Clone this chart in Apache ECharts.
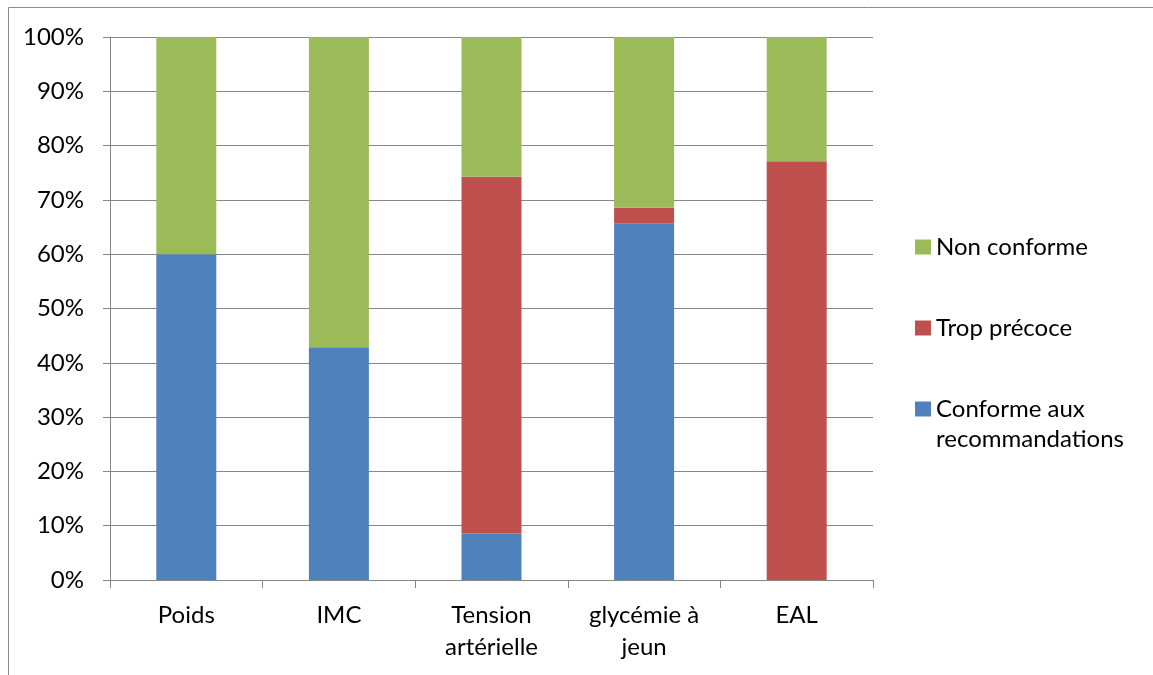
<!DOCTYPE html>
<html>
<head>
<meta charset="utf-8">
<script src="https://cdn.jsdelivr.net/npm/echarts@6/dist/echarts.min.js"></script>
<style>
  html, body { margin: 0; padding: 0; background: #fff; }
  #chart { width: 1153px; height: 675px; }
</style>
</head>
<body>
<div id="chart"></div>
<script>
// Categories of follow-up measures
const categories = ['Poids', 'IMC', 'Tension\nartérielle', 'glycémie à\njeun', 'EAL'];

// Share of each outcome per measure (%)
const conforme = [60.0, 42.86, 8.57, 65.71, 0];
const tropPrecoce = [0, 0, 65.71, 2.86, 77.14];
const nonConforme = [40.0, 57.14, 25.71, 31.43, 22.86];

const seriesNames = ['Conforme aux recommandations', 'Trop précoce', 'Non conforme'];
const seriesColors = ['#4F81BD', '#C0504D', '#9BBB59'];

const FONT = 'Lato, "Liberation Sans", sans-serif';

const chart = echarts.init(document.getElementById('chart'), null, { renderer: 'canvas' });

const makeSeries = (name, data, color) => ({
  name: name,
  type: 'bar',
  stack: 'total',
  data: data,
  barWidth: 60,
  itemStyle: { color: color },
  emphasis: { disabled: true }
});

// Every legend entry is three lines tall so the icons stay evenly spaced;
// the two-line label gets a leading empty line so its first line sits
// beside the icon.
const singleLinePad = [30, 0, 30, 0];

chart.setOption({
  animation: false,
  backgroundColor: '#ffffff',
  textStyle: { fontFamily: FONT },
  graphic: [{
    type: 'rect',
    silent: true,
    shape: { x: 8.5, y: 7.5, width: 1200, height: 700 },
    style: { fill: 'none', stroke: '#8c8c8c', lineWidth: 1 }
  }],
  grid: { left: 110, right: 280, top: 37, bottom: 95 },
  legend: {
    orient: 'vertical',
    left: 915,
    top: 202,
    padding: 0,
    itemWidth: 16,
    itemHeight: 15,
    itemGap: -9,
    icon: 'rect',
    selectedMode: false,
    textStyle: { fontFamily: FONT, fontSize: 24, color: '#000', lineHeight: 30 },
    formatter: name => name === seriesNames[0] ? '\nConforme aux\nrecommandations' : name,
    data: [
      { name: seriesNames[2], textStyle: { padding: singleLinePad } },
      { name: seriesNames[1], textStyle: { padding: singleLinePad } },
      { name: seriesNames[0] }
    ]
  },
  xAxis: {
    type: 'category',
    data: categories,
    boundaryGap: true,
    axisLine: { lineStyle: { color: '#868686', width: 1 } },
    axisTick: { show: true, length: 8, inside: false, lineStyle: { color: '#868686' } },
    axisLabel: {
      color: '#000',
      fontFamily: FONT,
      fontSize: 24,
      lineHeight: 32,
      margin: 19,
      interval: 0
    },
    splitLine: { show: false }
  },
  yAxis: {
    type: 'value',
    min: 0,
    max: 100,
    interval: 10,
    axisLine: { show: true, lineStyle: { color: '#868686', width: 1 } },
    axisTick: { show: true, length: 7, lineStyle: { color: '#868686' } },
    axisLabel: {
      color: '#000',
      fontFamily: FONT,
      fontSize: 24,
      margin: 26,
      formatter: v => v + '%'
    },
    splitLine: { show: true, lineStyle: { color: '#868686', width: 1 } }
  },
  series: [
    makeSeries(seriesNames[0], conforme, seriesColors[0]),
    makeSeries(seriesNames[1], tropPrecoce, seriesColors[1]),
    makeSeries(seriesNames[2], nonConforme, seriesColors[2])
  ]
});
</script>
</body>
</html>
